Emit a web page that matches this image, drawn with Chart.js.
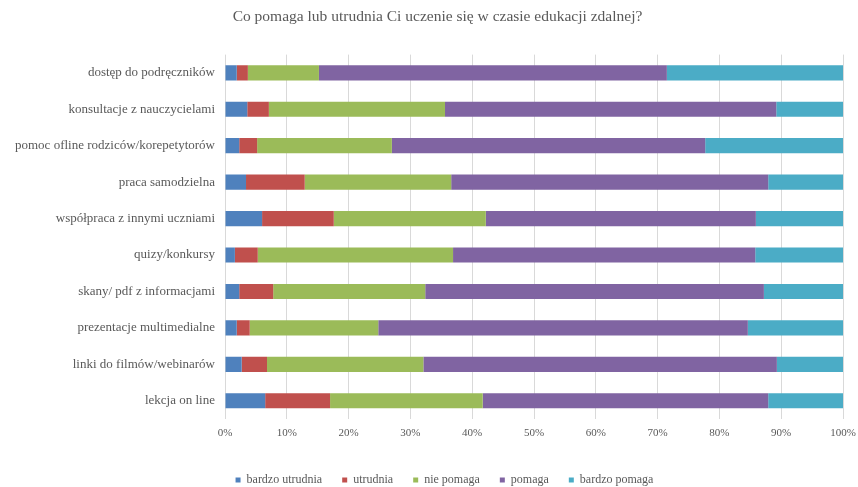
<!DOCTYPE html>
<html>
<head>
<meta charset="utf-8">
<script src="https://cdn.jsdelivr.net/npm/chart.js@4/dist/chart.umd.min.js"></script>
<style>
html,body{margin:0;padding:0;background:#fff;}
#wrap{width:858px;height:487px;position:relative;}
</style>
</head>
<body>
<div id="wrap"><canvas id="c" width="858" height="487"></canvas></div>
<script>
const titleText = "Co pomaga lub utrudnia Ci uczenie się w czasie edukacji zdalnej?";
const categories = [
  "dostęp do podręczników",
  "konsultacje z nauczycielami",
  "pomoc ofline rodziców/korepetytorów",
  "praca samodzielna",
  "współpraca z innymi uczniami",
  "quizy/konkursy",
  "skany/ pdf z informacjami",
  "prezentacje multimedialne",
  "linki do filmów/webinarów",
  "lekcja on line"
];
const seriesNames = ["bardzo utrudnia", "utrudnia", "nie pomaga", "pomaga", "bardzo pomaga"];
const bardzoUtrudnia = [1.9, 3.6, 2.3, 3.4, 6.0, 1.6, 2.3, 1.9, 2.7, 6.5];
const utrudnia       = [1.8, 3.5, 2.9, 9.5, 11.6, 3.7, 5.5, 2.1, 4.1, 10.5];
const niePomaga      = [11.5, 28.5, 21.8, 23.7, 24.6, 31.6, 24.6, 20.8, 25.3, 24.7];
const pomaga         = [56.3, 53.6, 50.7, 51.3, 43.7, 48.9, 54.8, 59.8, 57.2, 46.2];
const bardzoPomaga   = [28.5, 10.8, 22.3, 12.1, 14.1, 14.2, 12.8, 15.4, 10.7, 12.1];
const seriesValues = [bardzoUtrudnia, utrudnia, niePomaga, pomaga, bardzoPomaga];
const colors = ["#4F81BD", "#C0504D", "#9BBB59", "#8064A2", "#4BACC6"];
const tickLabels = ["0%", "10%", "20%", "30%", "40%", "50%", "60%", "70%", "80%", "90%", "100%"];

const fontFam = "'Liberation Serif', serif";
const textCol = "#595959";

const shiftBlocks = {
  id: 'shiftBlocks',
  afterLayout(chart) {
    if (chart.titleBlock) { chart.titleBlock.left += 16; chart.titleBlock.right += 16; }
    if (chart.legend) { chart.legend.left += 23; chart.legend.right += 23; }
  }
};

new Chart(document.getElementById('c'), {
  type: 'bar',
  data: {
    labels: categories,
    datasets: seriesNames.map((n, i) => ({
      label: n,
      data: seriesValues[i],
      backgroundColor: colors[i],
      borderWidth: 0,
      categoryPercentage: 0.8,
      barPercentage: 0.52
    }))
  },
  plugins: [shiftBlocks],
  options: {
    indexAxis: 'y',
    responsive: false,
    animation: false,
    devicePixelRatio: 1,
    layout: { padding: { left: 0, right: 15, top: 0, bottom: -9 } },
    plugins: {
      title: {
        display: true,
        text: titleText,
        color: textCol,
        font: { family: fontFam, size: 15.5, weight: 'normal' },
        padding: { top: 8, bottom: 28 }
      },
      legend: {
        position: 'bottom',
        labels: {
          color: textCol,
          font: { family: fontFam, size: 12 },
          boxWidth: 5,
          boxHeight: 5,
          padding: 20
        }
      },
      tooltip: { enabled: false }
    },
    scales: {
      x: {
        stacked: true,
        min: 0,
        max: 100,
        afterFit: (s) => { s.height = 35; s.paddingRight = 0; s.paddingLeft = 0; },
        ticks: {
          stepSize: 10,
          padding: 8,
          color: textCol,
          font: { family: fontFam, size: 11 },
          callback: (v, i) => tickLabels[i]
        },
        grid: { color: "#d9d9d9", drawTicks: false },
        border: { display: false }
      },
      y: {
        stacked: true,
        afterFit: (s) => { s.width = 225; },
        ticks: {
          padding: 10,
          color: textCol,
          font: { family: fontFam, size: 13 }
        },
        grid: { display: false, drawTicks: false },
        border: { display: false }
      }
    }
  }
});
</script>
</body>
</html>
